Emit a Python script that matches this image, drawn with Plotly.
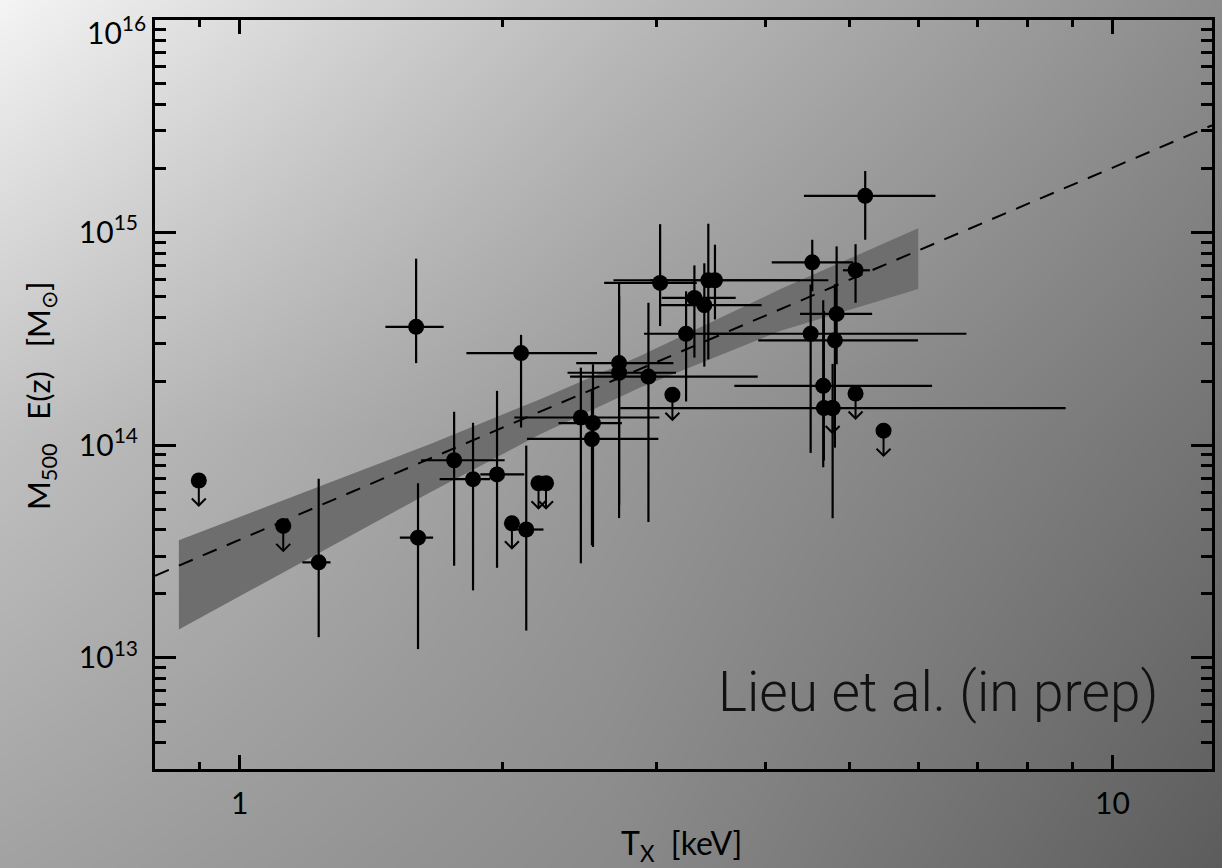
import base64
import struct
import zlib
import numpy as np
import plotly.graph_objects as go

# ---------------- data ----------------
# clusters with measured temperature and mass (with error ranges)
T    = [1.593, 2.101, 1.761, 1.851, 1.972, 2.130, 1.601, 1.232, 2.460, 2.540,
        2.533, 2.721, 2.721, 2.940, 3.032, 3.319, 3.407, 3.443, 3.504, 3.247,
        5.208, 4.529, 5.077, 4.830, 4.510, 4.808, 4.662, 4.670, 4.779]
T_lo = [1.469, 1.819, 1.614, 1.695, 1.887, 2.053, 1.526, 1.180, 2.064, 2.319,
        2.134, 2.430, 2.375, 2.391, 2.616, 3.045, 3.032, 2.681, 2.953, 2.906,
        4.431, 4.070, 4.911, 4.385, 3.413, 3.928, 3.688, 2.729, 4.779]
T_hi = [1.713, 2.567, 2.012, 1.937, 2.119, 2.229, 1.666, 1.271, 3.026, 2.741,
        3.018, 3.140, 3.162, 3.922, 3.340, 3.701, 3.963, 4.725, 4.385, 3.946,
        6.268, 5.045, 5.272, 5.304, 6.801, 5.986, 6.213, 8.836, 4.779]
M    = [3.60e14, 2.71e14, 8.49e13, 6.92e13, 7.28e13, 4.01e13, 3.67e13, 2.81e13, 1.349e14, 1.270e14,
        1.069e14, 2.43e14, 2.19e14, 2.10e14, 5.79e14, 4.92e14, 4.55e14, 5.96e14, 5.96e14, 3.34e14,
        1.486e15, 7.24e14, 6.64e14, 4.14e14, 3.34e14, 3.11e14, 1.90e14, 1.494e14, 1.494e14]
M_lo = [2.43e14, 1.21e14, 2.71e13, 2.075e13, 2.65e13, 1.343e13, 1.099e13, 1.25e13, 2.78e13, 3.32e13,
        3.38e13, 5.21e13, 4.54e13, 4.35e13, 3.63e14, 2.58e14, 2.34e14, 2.53e14, 3.90e14, 1.604e14,
        9.24e14, 5.29e14, 4.67e14, 2.40e14, 9.19e13, 9.73e13, 7.87e13, 8.46e13, 4.53e13]
M_hi = [7.53e14, 3.30e14, 1.435e14, 1.274e14, 1.80e14, 9.95e13, 6.62e13, 6.95e13, 2.314e14, 2.40e14,
        1.80e14, 5.01e14, 5.75e14, 4.67e14, 1.094e15, 7.00e14, 7.16e14, 1.099e15, 8.76e14, 5.29e14,
        1.945e15, 9.24e14, 8.81e14, 8.60e14, 5.69e14, 5.71e14, 4.80e14, 4.27e14, 2.41e14]

# upper limits
T_ul = [0.898, 1.122, 2.051, 2.200, 2.244, 3.132, 4.779, 5.077, 5.466]
M_ul = [6.82e13, 4.17e13, 4.29e13, 6.62e13, 6.62e13, 1.725e14, 1.494e14, 1.749e14, 1.169e14]

# confidence band of the relation
band_T  = [0.852, 1.174, 1.654, 2.21, 2.876, 4.16, 5.99]
band_hi = [3.57e13, 5.91e13, 1.013e14, 1.643e14, 2.624e14, 5.40e14, 1.047e15]
band_lo = [1.36e13, 2.79e13, 6.01e13, 1.126e14, 1.866e14, 3.44e14, 5.42e14]

# best-fit relation (dashed)
fit_T = [0.8, 13.0]
fit_M = [2.43e13, 3.19e15]

x_range = [0.8, 13.0]
y_range = [3e12, 1e16]

# tick labels
x_tickvals = [1, 10]
x_ticktext = ["1", "10"]
y_tickvals = [1e13, 1e14, 1e15]
y_ticktext = ["10<sup>13</sup>", "10<sup>14</sup>", "10<sup>15</sup>"]
top_label = "10<sup>16</sup>"   # label of the top y tick (drawn just inside the corner)

# ---------------- styling ----------------
W, H = 1222, 868
ML, MR, MT, MB = 155, 10, 20, 99
PW, PH = W - ML - MR, H - MT - MB
FONT = "Lato"

# background shading: grey levels at a 3x3 grid over the page (left/centre/right, top/middle/bottom)
bg_grid = [[244, 188, 140],
           [192, 152, 115],
           [162, 138, 92]]


def gradient_png(grid, w, h):
    g = np.array(grid, dtype=float)
    gx = np.linspace(0, w - 1, g.shape[1])
    gy = np.linspace(0, h - 1, g.shape[0])
    xs, ys = np.arange(w), np.arange(h)
    rows = np.array([np.interp(xs, gx, r) for r in g])
    img = np.array([np.interp(ys, gy, rows[:, i]) for i in range(w)]).T
    img = np.clip(np.round(img), 0, 255).astype(np.uint8)
    raw = b"".join(b"\x00" + img[r].tobytes() for r in range(h))

    def chunk(tag, data):
        c = struct.pack(">I", len(data)) + tag + data
        return c + struct.pack(">I", zlib.crc32(tag + data) & 0xFFFFFFFF)

    png = b"\x89PNG\r\n\x1a\n" + chunk(b"IHDR", struct.pack(">IIBBBBB", w, h, 8, 0, 0, 0, 0))
    png += chunk(b"IDAT", zlib.compress(raw, 9)) + chunk(b"IEND", b"")
    return "data:image/png;base64," + base64.b64encode(png).decode()


bg_src = gradient_png(bg_grid, W, H)
swoosh_svg = (
    f'<svg xmlns="http://www.w3.org/2000/svg" width="{W}" height="{H}" viewBox="0 0 {W} {H}">'
    '<path d="M1142,868 Q1185,850 1222,835 L1222,841 Q1192,855 1162,868 Z" fill="#1c1c1c" opacity="0.85"/>'
    '<path d="M1150,868 Q1190,852 1222,846" stroke="#2a2a2a" stroke-width="1" fill="none"/>'
    '</svg>'
)
swoosh_src = "data:image/svg+xml;base64," + base64.b64encode(swoosh_svg.encode()).decode()

T_a, T_lo_a, T_hi_a = np.array(T), np.array(T_lo), np.array(T_hi)
M_a, M_lo_a, M_hi_a = np.array(M), np.array(M_lo), np.array(M_hi)

ylog0, ylog1 = np.log10(y_range[0]), np.log10(y_range[1]) - 0.001
xlog0, xlog1 = np.log10(x_range[0]), np.log10(x_range[1])
dex_y = (ylog1 - ylog0) / PH     # dex per pixel (y)
dex_x = (xlog1 - xlog0) / PW     # dex per pixel (x)

# upper-limit arrows: stem + open chevron head, in data space
ARROW_PX, HEAD_W, HEAD_H = 25, 7, 7
ax_, ay_ = [], []
for t, m in zip(T_ul, M_ul):
    tip = m * 10 ** (-ARROW_PX * dex_y)
    up = tip * 10 ** (HEAD_H * dex_y)
    fx = 10 ** (HEAD_W * dex_x)
    ax_ += [t, t, None, t / fx, t, t * fx, None]
    ay_ += [m, tip, None, up, tip, up, None]

fig = go.Figure()

fig.add_trace(go.Scatter(
    x=band_T + band_T[::-1], y=band_hi + band_lo[::-1],
    fill="toself", fillcolor="#6e6e6e", mode="lines",
    line=dict(width=0, color="#6e6e6e"), hoverinfo="skip", showlegend=False))

fig.add_trace(go.Scatter(
    x=fit_T, y=fit_M, mode="lines",
    line=dict(color="black", width=2, dash="15px,11px"), showlegend=False))

fig.add_trace(go.Scatter(
    x=T, y=M, mode="markers",
    marker=dict(symbol="circle", size=16, color="black", line=dict(width=0)),
    error_x=dict(type="data", symmetric=False, array=T_hi_a - T_a,
                 arrayminus=T_a - T_lo_a, width=0, thickness=2.2, color="black"),
    error_y=dict(type="data", symmetric=False, array=M_hi_a - M_a,
                 arrayminus=M_a - M_lo_a, width=0, thickness=2.2, color="black"),
    showlegend=False))

fig.add_trace(go.Scatter(
    x=ax_, y=ay_, mode="lines", line=dict(color="black", width=2),
    hoverinfo="skip", showlegend=False))

fig.add_trace(go.Scatter(
    x=T_ul, y=M_ul, mode="markers",
    marker=dict(symbol="circle", size=16, color="black", line=dict(width=0)),
    showlegend=False))

annotations = [
    dict(text=top_label, xref="paper", yref="paper",
         x=(147 - ML) / PW, y=(H - MB - 9) / PH, xanchor="right", yanchor="top",
         showarrow=False, borderpad=0, font=dict(family=FONT, size=30, color="black")),
    dict(text="Lieu et al. (in prep)", xref="paper", yref="paper",
         x=(1160 - ML) / PW, y=(H - MB - 692) / PH, xanchor="right", yanchor="middle",
         showarrow=False, font=dict(family="Roboto", size=55, color="#111111", weight=300)),
    dict(text="M<sub>500</sub>   E(z)   [M<sub>⊙</sub>]", xref="paper", yref="paper",
         x=(40 - ML) / PW, y=(H - MB - 396) / PH, xanchor="center", yanchor="middle",
         textangle=-90, showarrow=False, font=dict(family=FONT, size=31, color="black")),
    dict(text="T<sub>X</sub>  [keV]", xref="paper", yref="paper",
         x=(681 - ML) / PW, y=(H - MB - 845) / PH, xanchor="center", yanchor="middle",
         showarrow=False, font=dict(family=FONT, size=32, color="black")),
]

axis_common = dict(
    type="log", showgrid=False, zeroline=False, showline=True, linecolor="black",
    linewidth=3, mirror="allticks", ticks="inside", tickcolor="black", tickwidth=2.5,
    tickmode="array", automargin=False,
    tickfont=dict(family=FONT, size=30, color="black"))

fig.update_layout(
    width=W, height=H, autosize=False,
    margin=dict(l=ML, r=MR, t=MT, b=MB, pad=0, autoexpand=False),
    paper_bgcolor="rgba(0,0,0,0)", plot_bgcolor="rgba(0,0,0,0)",
    images=[dict(source=bg_src, xref="paper", yref="paper",
                 x=-ML / PW, y=1 + MT / PH, sizex=W / PW, sizey=H / PH,
                 xanchor="left", yanchor="top", sizing="stretch", layer="below"),
            dict(source=swoosh_src, xref="paper", yref="paper",
                 x=-ML / PW, y=1 + MT / PH, sizex=W / PW, sizey=H / PH,
                 xanchor="left", yanchor="top", sizing="stretch", layer="below")],
    xaxis=dict(axis_common, range=[xlog0, xlog1],
               tickvals=x_tickvals, ticktext=x_ticktext,
               ticklen=14, ticklabelstandoff=6,
               minor=dict(ticks="inside", ticklen=7, tickwidth=2.5, tickcolor="black",
                          tickmode="linear", dtick="D1", showgrid=False)),
    yaxis=dict(axis_common, range=[ylog0, ylog1],
               tickvals=y_tickvals, ticktext=y_ticktext,
               ticklen=21, ticklabelstandoff=8,
               minor=dict(ticks="inside", ticklen=11, tickwidth=2.5, tickcolor="black",
                          tickmode="linear", dtick="D1", showgrid=False)),
    annotations=annotations,
    showlegend=False,
)

fig.write_html("out.html")
